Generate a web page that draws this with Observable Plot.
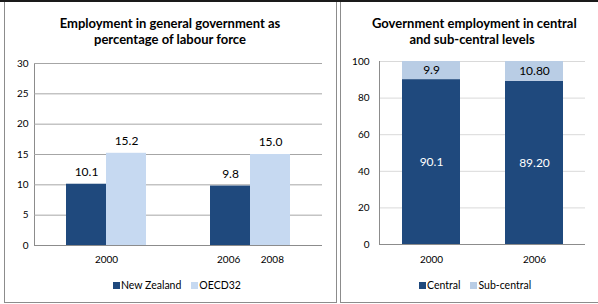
<!DOCTYPE html>
<html><head><meta charset="utf-8">
<script src="https://cdn.jsdelivr.net/npm/d3@7"></script>
<script src="https://cdn.jsdelivr.net/npm/@observablehq/plot@0.6"></script>
<style>
body{margin:0;background:#fff;font-family:Lato,"Open Sans",sans-serif;}
#wrap{position:relative;width:598px;height:304px;overflow:hidden;background:#fff}
.topline{position:absolute;left:0;top:0;width:598px;height:2px;background:#1a1a1a}
.panel{position:absolute;top:2px;border:1px solid #8c8c8c;border-top:none;box-sizing:border-box}
#p1{left:4px;width:333px;height:301px}
#p2{left:340px;width:262px;height:301px}
.title{position:absolute;font-weight:bold;font-size:13px;text-align:center;color:#000;line-height:16px;white-space:nowrap}
.legend{position:absolute;font-size:10.5px;color:#000;display:flex;align-items:center;white-space:nowrap;height:12px}
.legend .item{display:flex;align-items:center;margin-right:10px}
.sw{display:inline-block;width:7px;height:7px;margin-right:1px}
.chart{position:absolute}
#c1 svg text{fill:#000}
</style>
</head><body>
<div id="wrap">
  <div class="topline"></div>
  <div class="panel" id="p1"></div>
  <div class="panel" id="p2"></div>
  <div class="title" id="t1" style="left:20px;width:300px;top:15px"></div>
  <div class="title" id="t2" style="left:372px;width:200px;top:15px"></div>
  <div class="chart" id="c1" style="left:0;top:50px"></div>
  <div class="chart" id="c2" style="left:340px;top:50px"></div>
  <div class="legend" id="l1" style="left:113px;top:279px"></div>
  <div class="legend" id="l2" style="left:419px;top:279px"></div>
</div>
<script>
// ---- Left chart data ----
const leftTitle = ["Employment in general government as", "percentage of labour force"];
const leftSeries = ["New Zealand", "OECD32"];
const leftGroups = ["2000", "2006/2008"];
const leftTickLabels = [["2000"], ["2006", "2008"]];
const nzValues = [10.1, 9.8];
const oecdValues = [15.2, 15.0];
const leftYTicks = [0, 5, 10, 15, 20, 25, 30];
const leftColors = ["#1f497d", "#c6d9f1"];

// ---- Right chart data ----
const rightTitle = ["Government employment in central", "and sub-central levels"];
const rightYears = ["2000", "2006"];
const rightSeries = ["Central", "Sub-central"];
const centralValues = [90.1, 89.2];
const subCentralValues = [9.9, 10.8];
const centralLabels = ["90.1", "89.20"];
const subCentralLabels = ["9.9", "10.80"];
const rightYTicks = [0, 20, 40, 60, 80, 100];
const rightColors = ["#1f497d", "#b9cde5"];

const NB = "\u00a0".repeat(8);

document.getElementById("t1").innerHTML = leftTitle.join("<br>");
document.getElementById("t2").innerHTML = rightTitle.join("<br>");

const leftData = leftGroups.flatMap((g, i) => [
  {group: g, series: leftSeries[0], value: nzValues[i]},
  {group: g, series: leftSeries[1], value: oecdValues[i]}
]);

const left = Plot.plot({
  width: 330, height: 222,
  marginLeft: 33, marginRight: 8, marginTop: 13, marginBottom: 27,
  style: {fontFamily: "Lato", fontSize: "10px", color: "#8c8c8c", background: "transparent", overflow: "visible"},
  fx: {domain: leftGroups, padding: 0, label: null, axis: "bottom", tickSize: 0, tickPadding: 10,
       tickFormat: d => leftTickLabels[leftGroups.indexOf(d)].join(NB)},
  x: {domain: leftSeries, axis: null, paddingInner: 0, paddingOuter: 0.762},
  y: {domain: [0, 30], ticks: leftYTicks, tickSize: 0, tickPadding: 6, label: null, line: true},
  color: {domain: leftSeries, range: leftColors},
  marks: [
    Plot.ruleY(leftYTicks.slice(1), {stroke: "#a6a6a6"}),
    Plot.barY(leftData, {fx: "group", x: "series", y: "value", fill: "series"}),
    Plot.ruleY([0], {stroke: "#8c8c8c"}),
    Plot.text(leftData, {fx: "group", x: "series", y: "value", text: d => d3.format(".1f")(d.value), dy: -12, fontSize: 12, fill: "#000"})
  ]
});
document.getElementById("c1").appendChild(left);

const rightData = rightYears.flatMap((y, i) => [
  {year: y, series: rightSeries[0], value: centralValues[i], label: centralLabels[i]},
  {year: y, series: rightSeries[1], value: subCentralValues[i], label: subCentralLabels[i]}
]);

const right = Plot.plot({
  width: 258, height: 222,
  marginLeft: 39, marginRight: 13, marginTop: 11, marginBottom: 28,
  style: {fontFamily: "Lato", fontSize: "10px", color: "#000", background: "transparent", overflow: "visible"},
  x: {domain: rightYears, paddingInner: 0.437, paddingOuter: 0.2185, tickSize: 0, tickPadding: 11, label: null},
  y: {domain: [0, 100], ticks: rightYTicks, tickSize: 0, tickPadding: 10, label: null},
  color: {domain: rightSeries, range: rightColors},
  marks: [
    Plot.ruleY(rightYTicks.slice(1), {stroke: "#d9d9d9"}),
    Plot.barY(rightData, {x: "year", y: "value", fill: "series"}),
    Plot.ruleY([0], {stroke: "#8c8c8c"}),
    Plot.frame({anchor: "left", stroke: "#8c8c8c"}),
    Plot.text(rightData, {...Plot.stackY({x: "year", y: "value", z: "series", text: "label"}), filter: d => d.series === rightSeries[0], fill: "#fff", fontSize: 12}),
    Plot.text(rightData, {...Plot.stackY({x: "year", y: "value", z: "series", text: "label"}), filter: d => d.series === rightSeries[1], fill: "#000", fontSize: 12})
  ]
});
document.getElementById("c2").appendChild(right);

function legend(id, names, colors) {
  const el = document.getElementById(id);
  names.forEach((n, i) => {
    const it = document.createElement("span");
    it.className = "item";
    it.innerHTML = `<span class="sw" style="background:${colors[i]}"></span>${n}`;
    el.appendChild(it);
  });
}
legend("l1", leftSeries, leftColors);
legend("l2", rightSeries, rightColors);
</script>
</body></html>
